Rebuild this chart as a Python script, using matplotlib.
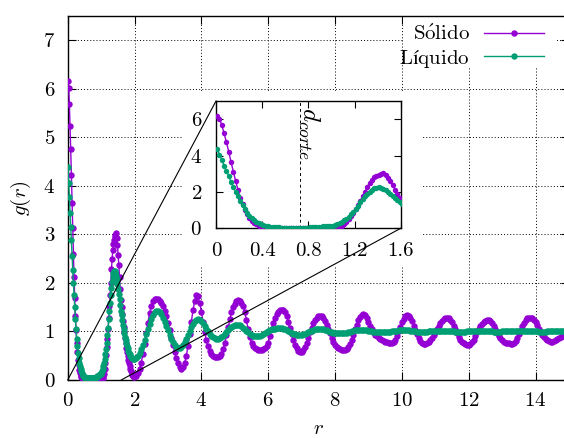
import numpy as np
import matplotlib.pyplot as plt
from matplotlib.patches import Rectangle, ConnectionPatch

plt.rcParams['font.family'] = 'cmr10'
plt.rcParams['mathtext.fontset'] = 'cm'
plt.rcParams['axes.formatter.use_mathtext'] = True
plt.rcParams['font.size'] = 15

# r grid: fine bins (0.02) up to r=2, coarser (0.05) after that
r_fino = np.round(np.arange(0.01, 2.0, 0.02), 2)
r_grueso = np.round(np.arange(2.05, 14.91, 0.05), 2)

# g(r) for the solid, r = 0.01 ... 1.99
g_solido_fino = [
    6.15, 6.02, 5.68, 5.22, 4.75, 4.22, 3.65, 3.12, 2.60, 2.12,
    1.68, 1.32, 1.02, 0.77, 0.57, 0.42, 0.30, 0.21, 0.14, 0.09,
    0.06, 0.04, 0.03, 0.02, 0.01, 0.01, 0.01, 0.00, 0.00, 0.00,
    0.00, 0.00, 0.00, 0.00, 0.00, 0.00, 0.00, 0.00, 0.00, 0.00,
    0.00, 0.00, 0.00, 0.00, 0.00, 0.00, 0.00, 0.00, 0.00, 0.01,
    0.01, 0.02, 0.04, 0.07, 0.13, 0.22, 0.36, 0.51, 0.67, 0.85,
    1.05, 1.28, 1.52, 1.76, 2.00, 2.28, 2.50, 2.68, 2.80, 2.88,
    2.94, 2.99, 3.02, 2.93, 2.77, 2.58, 2.36, 2.12, 1.88, 1.64,
    1.50, 1.36, 1.22, 1.10, 0.98, 0.87, 0.76, 0.66, 0.57, 0.49,
    0.42, 0.35, 0.29, 0.23, 0.18, 0.14, 0.11, 0.09, 0.08, 0.07,
]
# g(r) for the liquid, r = 0.01 ... 1.99
g_liquido_fino = [
    4.38, 4.05, 3.76, 3.44, 3.15, 2.89, 2.55, 2.26, 2.00, 1.75,
    1.50, 1.26, 1.04, 0.85, 0.69, 0.56, 0.45, 0.36, 0.29, 0.23,
    0.18, 0.14, 0.11, 0.09, 0.07, 0.06, 0.05, 0.05, 0.04, 0.04,
    0.04, 0.04, 0.04, 0.04, 0.04, 0.04, 0.04, 0.04, 0.04, 0.04,
    0.05, 0.05, 0.06, 0.07, 0.08, 0.09, 0.10, 0.11, 0.12, 0.13,
    0.15, 0.18, 0.23, 0.29, 0.36, 0.44, 0.53, 0.64, 0.77, 0.92,
    1.08, 1.25, 1.42, 1.59, 1.75, 1.90, 2.02, 2.12, 2.20, 2.24,
    2.25, 2.22, 2.16, 2.08, 1.98, 1.88, 1.78, 1.67, 1.55, 1.43,
    1.33, 1.23, 1.14, 1.05, 0.97, 0.89, 0.82, 0.76, 0.70, 0.65,
    0.60, 0.56, 0.53, 0.50, 0.48, 0.46, 0.45, 0.44, 0.44, 0.44,
]

# g(r) for the solid, r = 2.05 ... 14.90 (one row per unit of r)
g_solido_grueso = [
    0.09, 0.14, 0.23, 0.36, 0.53, 0.74, 0.96, 1.18, 1.38, 1.53, 1.62, 1.66, 1.67, 1.66, 1.62, 1.58, 1.52, 1.43, 1.31, 1.17,
    1.02, 0.87, 0.72, 0.58, 0.45, 0.34, 0.26, 0.23, 0.26, 0.35, 0.50, 0.70, 0.94, 1.20, 1.44, 1.63, 1.74, 1.72, 1.59, 1.40,
    1.19, 0.99, 0.82, 0.69, 0.60, 0.54, 0.50, 0.48, 0.47, 0.47, 0.49, 0.54, 0.63, 0.76, 0.92, 1.09, 1.25, 1.39, 1.50, 1.57,
    1.62, 1.64, 1.63, 1.59, 1.52, 1.40, 1.23, 1.04, 0.88, 0.76, 0.69, 0.65, 0.63, 0.62, 0.62, 0.62, 0.63, 0.65, 0.69, 0.77,
    0.90, 1.04, 1.17, 1.28, 1.36, 1.41, 1.44, 1.45, 1.44, 1.40, 1.32, 1.20, 1.07, 0.94, 0.82, 0.72, 0.65, 0.60, 0.58, 0.58,
    0.61, 0.67, 0.76, 0.87, 0.98, 1.08, 1.17, 1.24, 1.28, 1.31, 1.32, 1.31, 1.28, 1.22, 1.14, 1.05, 0.96, 0.87, 0.79, 0.72,
    0.68, 0.65, 0.63, 0.62, 0.61, 0.61, 0.63, 0.67, 0.74, 0.83, 0.93, 1.04, 1.14, 1.23, 1.29, 1.33, 1.35, 1.33, 1.28, 1.20,
    1.11, 1.04, 0.98, 0.93, 0.90, 0.87, 0.85, 0.83, 0.81, 0.79, 0.78, 0.77, 0.76, 0.76, 0.78, 0.83, 0.91, 1.00, 1.10, 1.19,
    1.26, 1.31, 1.33, 1.32, 1.28, 1.21, 1.12, 1.03, 0.94, 0.86, 0.80, 0.77, 0.75, 0.75, 0.76, 0.78, 0.82, 0.87, 0.93, 0.99,
    1.05, 1.12, 1.18, 1.22, 1.25, 1.27, 1.28, 1.27, 1.24, 1.19, 1.12, 1.04, 0.96, 0.89, 0.83, 0.79, 0.76, 0.74, 0.73, 0.73,
    0.75, 0.78, 0.83, 0.90, 0.98, 1.05, 1.11, 1.16, 1.20, 1.22, 1.23, 1.23, 1.21, 1.17, 1.11, 1.04, 0.97, 0.91, 0.86, 0.82,
    0.79, 0.77, 0.76, 0.76, 0.75, 0.75, 0.76, 0.80, 0.86, 0.94, 1.03, 1.11, 1.18, 1.23, 1.27, 1.28, 1.28, 1.27, 1.24, 1.19,
    1.13, 1.06, 0.99, 0.93, 0.88, 0.84, 0.82, 0.80, 0.79, 0.79, 0.80, 0.82, 0.84, 0.86, 0.88, 0.91, 0.94, 0.98,
]
# g(r) for the liquid, r = 2.05 ... 14.90
g_liquido_grueso = [
    0.46, 0.50, 0.56, 0.64, 0.73, 0.83, 0.94, 1.05, 1.16, 1.26, 1.34, 1.39, 1.42, 1.42, 1.40, 1.35, 1.28, 1.20, 1.11, 1.02,
    0.93, 0.85, 0.78, 0.72, 0.68, 0.66, 0.66, 0.68, 0.72, 0.78, 0.85, 0.93, 1.01, 1.09, 1.16, 1.21, 1.24, 1.25, 1.24, 1.21,
    1.17, 1.12, 1.06, 1.00, 0.95, 0.91, 0.88, 0.86, 0.85, 0.85, 0.86, 0.88, 0.91, 0.95, 0.99, 1.03, 1.07, 1.10, 1.12, 1.14,
    1.14, 1.14, 1.13, 1.11, 1.08, 1.05, 1.01, 0.98, 0.95, 0.93, 0.91, 0.90, 0.90, 0.90, 0.91, 0.92, 0.94, 0.96, 0.98, 1.00,
    1.02, 1.04, 1.05, 1.06, 1.07, 1.07, 1.07, 1.07, 1.06, 1.05, 1.03, 1.01, 0.99, 0.97, 0.95, 0.94, 0.93, 0.93, 0.93, 0.93,
    0.94, 0.95, 0.96, 0.98, 1.00, 1.01, 1.03, 1.04, 1.05, 1.05, 1.05, 1.05, 1.04, 1.03, 1.02, 1.00, 0.99, 0.98, 0.97, 0.96,
    0.96, 0.96, 0.96, 0.96, 0.96, 0.97, 0.97, 0.98, 0.99, 1.00, 1.01, 1.02, 1.02, 1.03, 1.03, 1.03, 1.03, 1.02, 1.02, 1.01,
    1.00, 1.00, 0.99, 0.99, 0.98, 0.98, 0.98, 0.98, 0.98, 0.98, 0.98, 0.99, 0.99, 1.00, 1.00, 1.01, 1.01, 1.02, 1.02, 1.02,
    1.02, 1.02, 1.02, 1.02, 1.01, 1.01, 1.00, 1.00, 0.99, 0.99, 0.99, 0.99, 0.99, 0.99, 0.99, 1.00, 1.00, 1.00, 1.01, 1.01,
    1.01, 1.01, 1.01, 1.01, 1.01, 1.01, 1.01, 1.00, 1.00, 1.00, 1.00, 0.99, 0.99, 0.99, 0.99, 0.99, 0.99, 0.99, 1.00, 1.00,
    1.00, 1.00, 1.00, 1.01, 1.01, 1.01, 1.01, 1.01, 1.01, 1.01, 1.00, 1.00, 1.00, 1.00, 0.99, 0.99, 0.99, 0.99, 0.99, 1.00,
    1.00, 1.00, 1.00, 1.00, 1.00, 1.00, 1.00, 1.00, 1.01, 1.01, 1.01, 1.01, 1.01, 1.00, 1.00, 1.00, 1.00, 1.00, 1.00, 1.00,
    1.00, 0.99, 0.99, 0.99, 0.99, 0.99, 1.00, 1.00, 1.00, 1.00, 1.00, 1.00, 1.00, 1.00, 1.00, 1.00, 1.00, 1.00,
]

etiquetas = [r'$\mathrm{S\acute{o}lido}$', r'$\mathrm{Líquido}$']
colores = ['#9400d3', '#009e73']
ticks_x = [0, 2, 4, 6, 8, 10, 12, 14]
ticks_y = [0, 1, 2, 3, 4, 5, 6, 7]
ticks_ins_x = [0, 0.4, 0.8, 1.2, 1.6]
labels_ins_x = ['0', '0.4', '0.8', '1.2', '1.6']
ticks_ins_y = [0, 2, 4, 6]
d_corte = 0.73

r = np.concatenate([r_fino, r_grueso])
g_sol = np.concatenate([g_solido_fino, g_solido_grueso])
g_liq = np.concatenate([g_liquido_fino, g_liquido_grueso])
series = [g_sol, g_liq]

W, H = 564, 438
fig = plt.figure(figsize=(W / 100, H / 100), dpi=100)

# main axes (the right edge at r=15 falls just outside the canvas)
ax = fig.add_axes([67.7 / W, 1 - 380 / H, (569 - 67.7) / W, (380 - 15.7) / H])
for g, c, lab in zip(series, colores, etiquetas):
    ax.plot(r, g, '-o', color=c, lw=1.0, ms=4.6, mew=0, label=lab, zorder=3)
ax.set_xlim(0, 15)
ax.set_ylim(0, 7.5)
ax.set_xticks(ticks_x)
ax.set_yticks(ticks_y)
ax.set_axisbelow(True)
ax.grid(True, color='k', lw=0.7, ls=(0, (1, 2.2)))
ax.tick_params(direction='in', top=True, right=True, length=6, width=0.8, pad=9)
for s in ax.spines.values():
    s.set_linewidth(1.0)
ax.set_xlabel(r'$r$', labelpad=7)
ax.set_ylabel(r'$g(r)$')
ax.yaxis.set_label_coords(-0.07, 0.5)

# white boxes hiding the grid behind the inset and the key
for x0, y0, x1, y1 in [(182, 90.5, 421.7, 267), (402.5, 15.7, 557, 67)]:
    ax.add_patch(Rectangle((x0 / W, 1 - y1 / H), (x1 - x0) / W, (y1 - y0) / H,
                           transform=fig.transFigure, facecolor='white',
                           edgecolor='none', zorder=1))

leg = ax.legend(loc='upper right', bbox_to_anchor=(543.5 / W, 1 - 25 / H),
                bbox_transform=fig.transFigure, frameon=False, markerfirst=False,
                numpoints=1, handlelength=2.85, handletextpad=0.7,
                labelspacing=0.15, borderpad=0, borderaxespad=0)

# inset: zoom on 0 < r < 1.6
axins = fig.add_axes([216 / W, 1 - 228.3 / H, (400.7 - 216) / W, (228.3 - 101) / H])
for g, c in zip(series, colores):
    axins.plot(r, g, '-o', color=c, lw=1.0, ms=3.9, mew=0, zorder=3)
axins.set_xlim(0, 1.6)
axins.set_ylim(0, 7)
axins.set_xticks(ticks_ins_x)
axins.set_xticklabels(labels_ins_x)
axins.set_yticks(ticks_ins_y)
axins.tick_params(direction='in', top=True, right=True, length=5, width=0.8, pad=10)
for s in axins.spines.values():
    s.set_linewidth(1.0)
axins.axvline(d_corte, color='k', lw=0.7, ls=(0, (3, 3)), zorder=2)
axins.text(d_corte + 0.02, 6.65, r'$d_{corte}$', fontsize=18, rotation=-90,
           rotation_mode='anchor', ha='left', va='baseline')

# lines joining the zoomed region to the inset corners
for xa, xb in [((0, 0), (0, 1)), ((1.6, 0), (1, 0))]:
    con = ConnectionPatch(xyA=xa, coordsA=ax.transData, xyB=xb, coordsB=axins.transAxes,
                          color='k', lw=0.8, zorder=4)
    fig.add_artist(con)

fig.savefig('out.png', dpi=100)
